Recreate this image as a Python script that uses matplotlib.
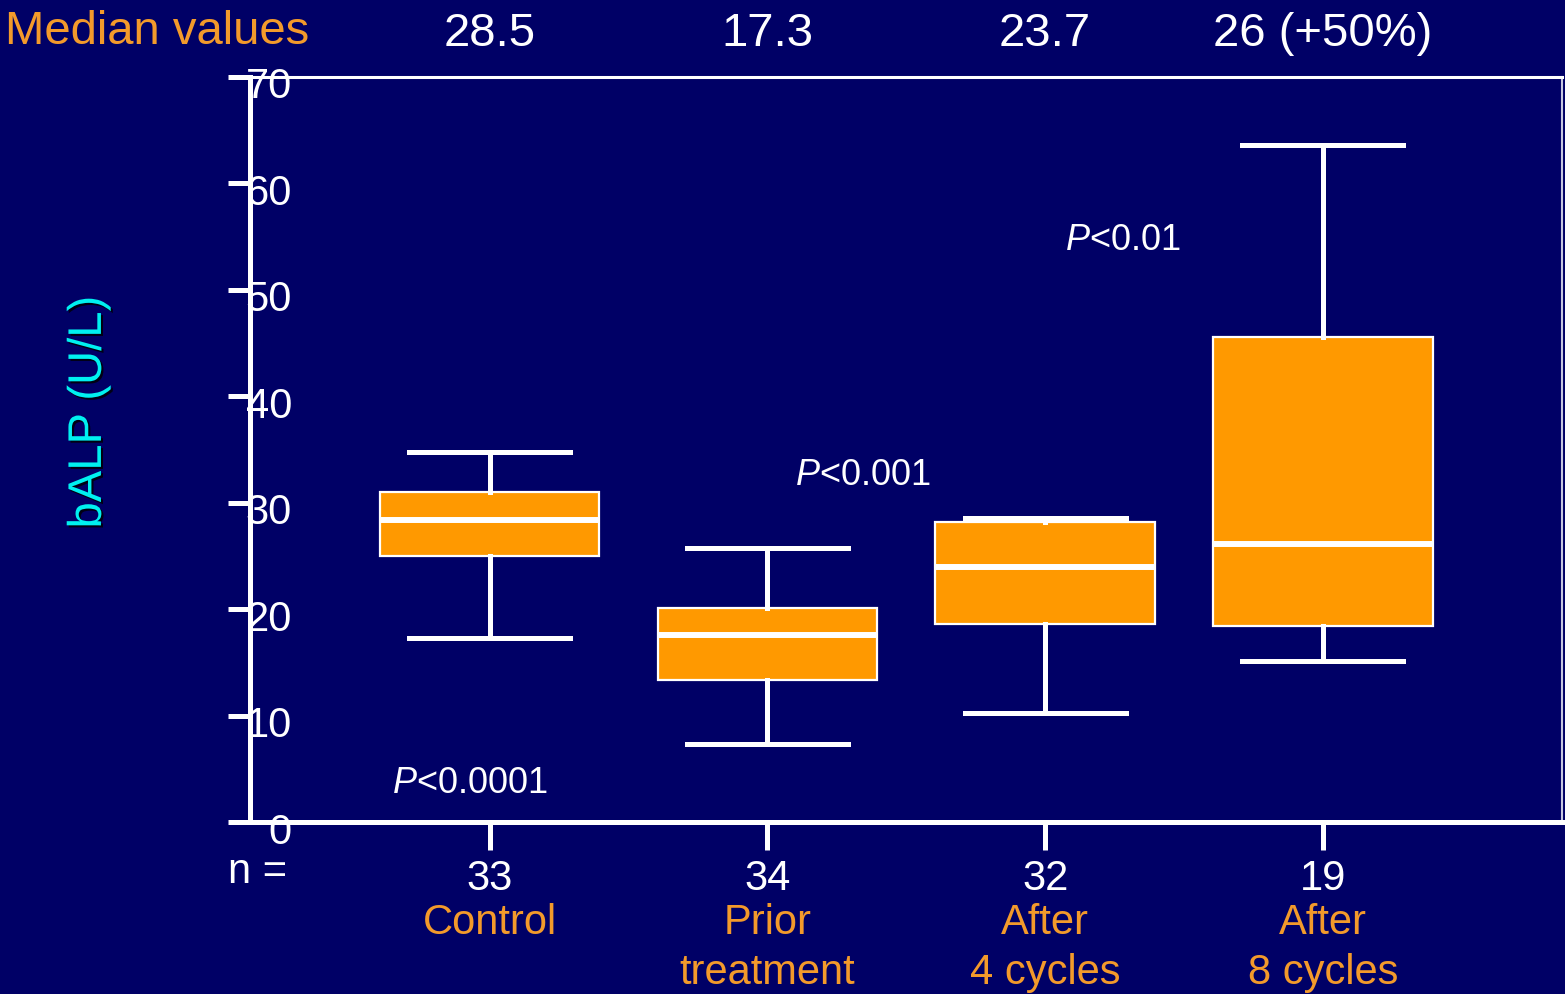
import matplotlib
matplotlib.use("Agg")
import matplotlib.pyplot as plt
import matplotlib.patheffects as pe
import matplotlib.transforms as mtransforms

plt.rcParams['font.family'] = ['Liberation Sans', 'DejaVu Sans']
plt.rcParams['mathtext.fontset'] = 'custom'
plt.rcParams['mathtext.rm'] = 'Liberation Sans'
plt.rcParams['mathtext.it'] = 'Liberation Sans:italic'

# groups and their box statistics (bALP, U/L)
groups = ['Control', 'Prior\ntreatment', 'After\n4 cycles', 'After\n8 cycles']
n_counts = ['33', '34', '32', '19']
median_labels = ['28.5', '17.3', '23.7', '26 (+50%)']
medians = [28.4, 17.6, 24.0, 26.1]
q1 = [25.0, 13.3, 18.6, 18.4]
q3 = [31.0, 20.1, 28.2, 45.6]
whis_lo = [17.3, 7.3, 10.2, 15.1]
whis_hi = [34.8, 25.7, 28.6, 63.6]

p_texts = ['$\\it{P}$<0.0001', '$\\it{P}$<0.001', '$\\it{P}$<0.01']
p_x = [0.65, 2.10, 3.07]
p_y = [3.6, 32.6, 54.6]

yticks = [0, 10, 20, 30, 40, 50, 60, 70]

navy = '#000066'
orange = '#FF9900'
orange_txt = '#F39A2B'
cyan = '#00F0F0'

fig = plt.figure(figsize=(15.65, 9.94), dpi=100, facecolor=navy)
ax = fig.add_axes([250/1565, 1-822/994, 1312/1565, 745/994])
ax.set_facecolor(navy)

positions = [1, 2, 3, 4]
stats = []
for i in range(len(groups)):
    stats.append(dict(med=medians[i], q1=q1[i], q3=q3[i],
                      whislo=whis_lo[i], whishi=whis_hi[i], fliers=[]))

ax.bxp(stats, positions=positions, widths=0.79, capwidths=0.58,
       patch_artist=True, showfliers=False,
       boxprops=dict(facecolor=orange, edgecolor='white', linewidth=1.6),
       medianprops=dict(color='white', linewidth=4.3),
       whiskerprops=dict(color='white', linewidth=3.6),
       capprops=dict(color='white', linewidth=3.6))

ax.set_xlim(0.137, 4.861)
ax.set_ylim(0, 70)

for s in ['left', 'bottom']:
    ax.spines[s].set_color('white')
    ax.spines[s].set_linewidth(3.6)
ax.spines['top'].set_color('white')
ax.spines['top'].set_linewidth(2.2)
ax.spines['right'].set_color('#C8C8E0')
ax.spines['right'].set_linewidth(1.5)

ax.set_yticks(yticks)
ax.tick_params(axis='y', direction='out', length=15.8, width=3.6, color='white',
               labelcolor='white', labelsize=30, pad=-46)
# labels sit a little below their ticks in the original
shift = mtransforms.ScaledTranslation(0, -6/100, fig.dpi_scale_trans)
for lab in ax.get_yticklabels():
    lab.set_transform(lab.get_transform() + shift)

ax.set_xticks(positions)
ax.set_xticklabels(n_counts)
ax.tick_params(axis='x', direction='out', length=20, width=3.6, color='white',
               labelcolor='white', labelsize=30, pad=6.5)

ax.set_ylabel('bALP (U/L)', color=cyan, fontsize=34,
              path_effects=[pe.withSimplePatchShadow(offset=(1.5, -1.5),
                                                     shadow_rgbFace='black', alpha=0.8)])
ax.yaxis.set_label_coords(-0.106, 0.55)

trans = ax.get_xaxis_transform()
for i, g in enumerate(groups):
    ax.text(positions[i], -0.109, g, transform=trans, ha='center', va='top',
            color=orange_txt, fontsize=30, linespacing=1.32)
    ax.text(positions[i], 1.058, median_labels[i], transform=trans, ha='center',
            va='center', color='white', fontsize=34)

ax.text(-0.0168, -0.067, 'n =', transform=ax.transAxes, ha='left', va='center',
        color='white', fontsize=30)
fig.text(0.003, 0.968, 'Median values', ha='left', va='center', color=orange_txt, fontsize=34)

for t, x, y in zip(p_texts, p_x, p_y):
    ax.text(x, y, t, ha='left', va='center', color='white', fontsize=26)

fig.savefig('out.png', dpi=100, facecolor=navy)
